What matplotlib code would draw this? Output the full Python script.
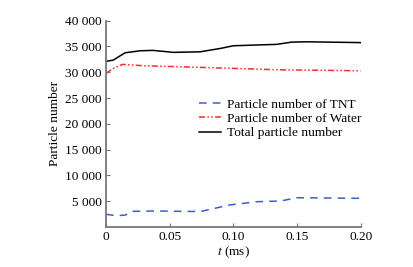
import matplotlib
matplotlib.use("Agg")
import matplotlib.pyplot as plt
from matplotlib.ticker import FuncFormatter

plt.rcParams['font.family'] = ['Liberation Serif', 'DejaVu Serif']
plt.rcParams['mathtext.fontset'] = 'stix'

t_total = [0.0, 0.0057, 0.015, 0.027, 0.037, 0.053, 0.074, 0.09, 0.1, 0.134, 0.146, 0.158, 0.2]
v_total = [32110, 32360, 33780, 34170, 34240, 33860, 33970, 34630, 35140, 35410, 35850, 35910, 35750]

t_water = [0.0, 0.0057, 0.013, 0.03, 0.074, 0.134, 0.2]
v_water = [29790, 30750, 31530, 31260, 30950, 30490, 30290]

t_tnt = [0.0, 0.0083, 0.015, 0.0215, 0.04, 0.074, 0.097, 0.118, 0.137, 0.15, 0.2]
v_tnt = [2460, 2190, 2320, 3040, 3100, 3000, 4260, 4900, 5040, 5680, 5560]

labels = ['Particle number of TNT', 'Particle number of Water', 'Total particle number']
xticks = [0, 0.05, 0.10, 0.15, 0.20]
xticklabels = ['0', '0.05', '0.10', '0.15', '0.20']
yticks = [5000, 10000, 15000, 20000, 25000, 30000, 35000, 40000]

fs = 9.6
fig = plt.figure(figsize=(4.13, 2.67), dpi=100)
ax = fig.add_axes([0.2567, 0.1498, 0.6166, 0.7727])

ax.plot(t_tnt, v_tnt, color='#3a5fcd', lw=1.1, linestyle=(0, (5, 4)), label=labels[0])
ax.plot(t_water, v_water, color='#ff2a2a', lw=1.1, linestyle=(0, (4, 1.5, 1, 1.5, 1, 1.5)), label=labels[1])
ax.plot(t_total, v_total, color='black', lw=1.1, label=labels[2])

ax.set_xlim(0, 0.2)
ax.set_ylim(0, 40000)
ax.set_xticks(xticks)
ax.set_xticklabels(xticklabels)
ax.set_yticks(yticks)
ax.yaxis.set_major_formatter(FuncFormatter(lambda v, p: f"{int(v):,}".replace(',', ' ')))

for s in ['top', 'right']:
    ax.spines[s].set_visible(False)
for s in ['left', 'bottom']:
    ax.spines[s].set_color('#777777')
    ax.spines[s].set_linewidth(1.3)
ax.tick_params(direction='in', length=3, width=0.8, color='#777777', labelsize=fs, pad=3)

ax.set_ylabel('Particle number', fontsize=fs, labelpad=3)
ax.set_xlabel('$t$ (ms)', fontsize=fs, labelpad=1)

leg = ax.legend(loc='upper left', bbox_to_anchor=(0.345, 0.65), frameon=False, fontsize=fs,
                handlelength=1.6, handletextpad=0.45, labelspacing=0.15, borderaxespad=0)

fig.savefig('out.png', dpi=100)
